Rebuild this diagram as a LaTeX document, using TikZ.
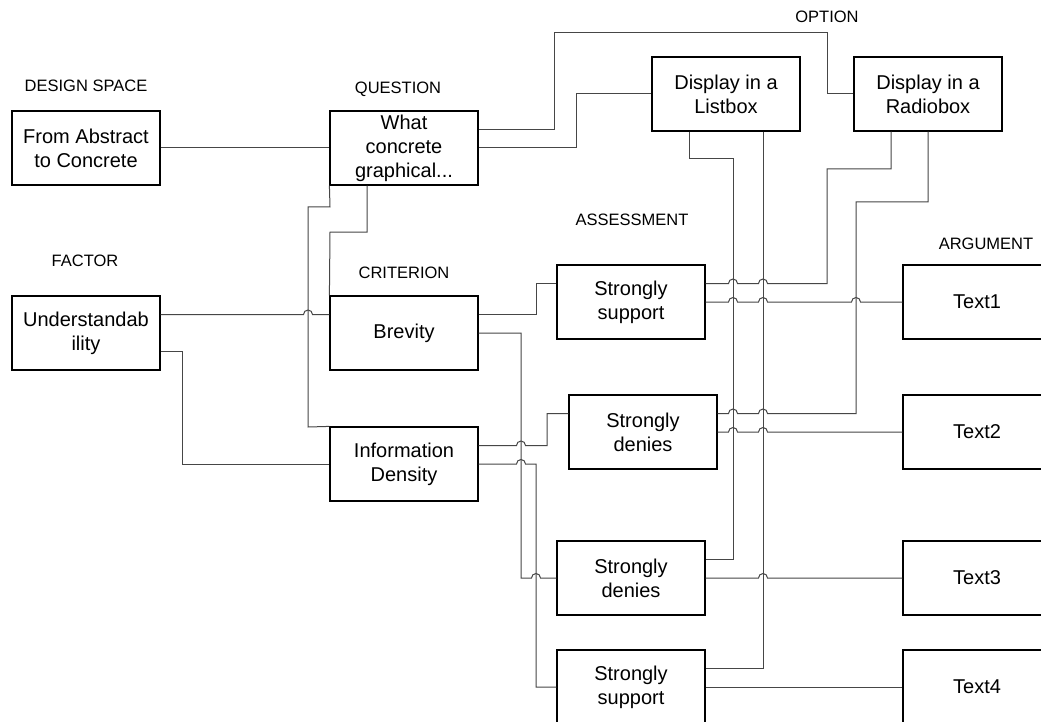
\documentclass[tikz,border=0pt]{standalone}
\usepackage{fontspec}
\setmainfont{Liberation Sans}
\definecolor{conncol}{RGB}{70,70,70}

% line hop over a vertical line at x=#1 on a horizontal run at y=-#2
\newcommand\hopright[2]{-- ({#1-4.5},-#2) arc[start angle=180,end angle=0,radius=4.5pt]}
\newcommand\hopleft[2]{-- ({#1+4.5},-#2) arc[start angle=0,end angle=180,radius=4.5pt]}

\begin{document}
\begin{tikzpicture}[x=1pt,y=1pt,
  box/.style={draw=black,line width=1.2pt,fill=white,minimum width=148pt,minimum height=74pt,
    inner sep=0pt,align=center,font=\fontsize{20}{24}\selectfont},
  tag/.style={font=\fontsize{16.5}{19}\selectfont,inner sep=0pt},
  conn/.style={draw=conncol,line width=1pt}]
\useasboundingbox (0,0) rectangle (1041,-722);
\clip (0,0) rectangle (1041,-722);
\fill[white] (0,0) rectangle (1041,-722);

% category headings
\node[tag] (tds)  at (86,-86)  {DESIGN SPACE};
\node[tag] (tfa)  at (85,-261) {FACTOR};
\node[tag] (tqu)  at (398,-89) {QUESTION};
\node[tag] (tcr)  at (404,-273) {CRITERION};
\node[tag] (top)  at (827,-17) {OPTION};
\node[tag] (tas)  at (632,-220) {ASSESSMENT};
\node[tag] (tar)  at (986,-244) {ARGUMENT};

% boxes
\node[box] (abs)   at (86,-148)  {From Abstract\\to Concrete};
\node[box] (und)   at (86,-333)  {Understandab\\ility};
\node[box] (q)     at (404,-148) {What\\concrete\\graphical...};
\node[box] (brev)  at (404,-333) {Brevity};
\node[box] (info)  at (404,-464) {Information\\Density};
\node[box] (list)  at (726,-94)  {Display in a\\Listbox};
\node[box] (radio) at (928,-94)  {Display in a\\Radiobox};
\node[box] (ss1)   at (631,-302) {Strongly\\support};
\node[box] (sd1)   at (643,-432) {Strongly\\denies};
\node[box] (sd2)   at (631,-578) {Strongly\\denies};
\node[box] (ss2)   at (631,-687) {Strongly\\support};
\node[box] (t1)    at (977,-302) {Text1};
\node[box] (t2)    at (977,-432) {Text2};
\node[box] (t3)    at (977,-578) {Text3};
\node[box] (t4)    at (977,-687) {Text4};

% design space -> question
\draw[conn] (abs.east) -- (q.west);
% question -> options
\draw[conn] ([yshift=18.5pt]q.east) -- (554,-129.5) -- (554,-33) -- (827,-33) -- (827,-94) -- (radio.west);
\draw[conn] (q.east) -- (576,-148) -- (576,-94) -- (list.west);
% question -> criteria
\draw[conn] (q.south west) -- (330,-207) -- (308,-207) -- (308,-427) -- (info.north west);
\draw[conn] ([xshift=-37pt]q.south) -- (367,-232) -- (330,-232) -- (brev.north west);
% factor -> criteria
\draw[conn] ([yshift=18.5pt]und.east) \hopright{308}{314.5} -- ([yshift=18.5pt]brev.west);
\draw[conn] ([yshift=-18.5pt]und.east) -- (182,-351.5) -- (182,-464) -- (info.west);
% criteria -> assessments
\draw[conn] ([yshift=18.5pt]brev.east) -- (536,-314.5) -- (536,-283.5) -- ([yshift=18.5pt]ss1.west);
\draw[conn] (brev.east) -- (521,-333) -- (521,-578) \hopright{536}{578} -- (sd2.west);
\draw[conn] ([yshift=18.5pt]info.east) \hopright{521}{445.5} -- (547,-445.5) -- (547,-413.5) -- ([yshift=18.5pt]sd1.west);
\draw[conn] (info.east) \hopright{521}{464} -- (536,-464) -- (536,-687) -- (ss2.west);
% options -> assessments
\draw[conn] ([xshift=-37pt]list.south) -- (689,-159) -- (733,-159) -- (733,-559.5) -- ([yshift=18.5pt]sd2.east);
\draw[conn] ([xshift=37pt]list.south) -- (763,-668.5) -- ([yshift=18.5pt]ss2.east);
\draw[conn] ([xshift=-37pt]radio.south) -- (891,-169) -- (827,-169) -- (827,-283.5)
  \hopleft{763}{283.5} \hopleft{733}{283.5} -- ([yshift=18.5pt]ss1.east);
\draw[conn] (radio.south) -- (928,-202) -- (856,-202) -- (856,-413.5)
  \hopleft{763}{413.5} \hopleft{733}{413.5} -- ([yshift=18.5pt]sd1.east);
% assessments -> arguments
\draw[conn] (ss1.east) \hopright{733}{302} \hopright{763}{302} \hopright{856}{302} -- (t1.west);
\draw[conn] (sd1.east) \hopright{733}{432} \hopright{763}{432} -- (t2.west);
\draw[conn] (sd2.east) \hopright{763}{578} -- (t3.west);
\draw[conn] (ss2.east) -- (t4.west);
\end{tikzpicture}
\end{document}
